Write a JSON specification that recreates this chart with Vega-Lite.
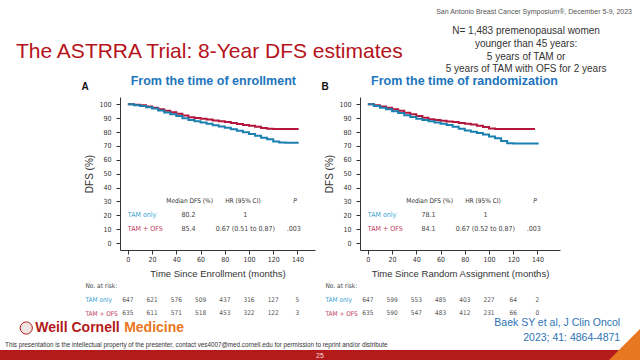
{
  "$schema": "https://vega.github.io/schema/vega-lite/v6.json",
  "padding": 0,
  "background": "white",
  "spacing": 0,
  "config": {
    "view": {"stroke": null},
    "font": "Liberation Sans",
    "axis": {"labelFont": "DejaVu Sans Condensed", "titleFont": "Liberation Sans", "labelOverlap": false, "labelFlush": false, "labelBound": false, "labelSeparation": 0, "tickCount": 30},
    "text": {"font": "DejaVu Sans Condensed"}
  },
  "datasets": {
    "km": [
      {"p":"A","g":"TAM + OFS","t":0,"v":100},{"p":"A","g":"TAM + OFS","t":5,"v":99.8},{"p":"A","g":"TAM + OFS","t":10,"v":99.3},{"p":"A","g":"TAM + OFS","t":15,"v":98.5},{"p":"A","g":"TAM + OFS","t":20,"v":97.6},{"p":"A","g":"TAM + OFS","t":25,"v":96.5},{"p":"A","g":"TAM + OFS","t":30,"v":95.3},{"p":"A","g":"TAM + OFS","t":35,"v":94.3},{"p":"A","g":"TAM + OFS","t":40,"v":93.3},{"p":"A","g":"TAM + OFS","t":45,"v":91.9},{"p":"A","g":"TAM + OFS","t":50,"v":90.7},{"p":"A","g":"TAM + OFS","t":55,"v":90.2},{"p":"A","g":"TAM + OFS","t":60,"v":89.7},{"p":"A","g":"TAM + OFS","t":65,"v":89.1},{"p":"A","g":"TAM + OFS","t":70,"v":88.4},{"p":"A","g":"TAM + OFS","t":75,"v":87.8},{"p":"A","g":"TAM + OFS","t":80,"v":87.2},{"p":"A","g":"TAM + OFS","t":85,"v":86.6},{"p":"A","g":"TAM + OFS","t":90,"v":85.8},{"p":"A","g":"TAM + OFS","t":95,"v":85.1},{"p":"A","g":"TAM + OFS","t":100,"v":84.5},{"p":"A","g":"TAM + OFS","t":105,"v":83.8},{"p":"A","g":"TAM + OFS","t":110,"v":83.0},{"p":"A","g":"TAM + OFS","t":115,"v":82.4},{"p":"A","g":"TAM + OFS","t":120,"v":82.3},{"p":"A","g":"TAM + OFS","t":125,"v":82.3},{"p":"A","g":"TAM + OFS","t":130,"v":82.2},{"p":"A","g":"TAM + OFS","t":135,"v":82.2},{"p":"A","g":"TAM + OFS","t":141,"v":82.2},
      {"p":"A","g":"TAM only","t":0,"v":100},{"p":"A","g":"TAM only","t":5,"v":99.4},{"p":"A","g":"TAM only","t":10,"v":98.8},{"p":"A","g":"TAM only","t":15,"v":97.9},{"p":"A","g":"TAM only","t":20,"v":97.0},{"p":"A","g":"TAM only","t":25,"v":95.6},{"p":"A","g":"TAM only","t":30,"v":94.2},{"p":"A","g":"TAM only","t":35,"v":92.9},{"p":"A","g":"TAM only","t":40,"v":91.6},{"p":"A","g":"TAM only","t":45,"v":90.0},{"p":"A","g":"TAM only","t":50,"v":88.7},{"p":"A","g":"TAM only","t":55,"v":87.8},{"p":"A","g":"TAM only","t":60,"v":86.9},{"p":"A","g":"TAM only","t":65,"v":86.0},{"p":"A","g":"TAM only","t":70,"v":85.0},{"p":"A","g":"TAM only","t":75,"v":84.0},{"p":"A","g":"TAM only","t":80,"v":83.1},{"p":"A","g":"TAM only","t":85,"v":82.1},{"p":"A","g":"TAM only","t":90,"v":81.0},{"p":"A","g":"TAM only","t":95,"v":79.9},{"p":"A","g":"TAM only","t":100,"v":78.7},{"p":"A","g":"TAM only","t":105,"v":77.3},{"p":"A","g":"TAM only","t":110,"v":76.0},{"p":"A","g":"TAM only","t":115,"v":74.8},{"p":"A","g":"TAM only","t":120,"v":73.3},{"p":"A","g":"TAM only","t":125,"v":72.5},{"p":"A","g":"TAM only","t":130,"v":72.4},{"p":"A","g":"TAM only","t":135,"v":72.4},{"p":"A","g":"TAM only","t":141,"v":72.4},
      {"p":"B","g":"TAM + OFS","t":0,"v":100},{"p":"B","g":"TAM + OFS","t":5,"v":99.3},{"p":"B","g":"TAM + OFS","t":10,"v":98.5},{"p":"B","g":"TAM + OFS","t":15,"v":97.5},{"p":"B","g":"TAM + OFS","t":20,"v":96.5},{"p":"B","g":"TAM + OFS","t":25,"v":95.3},{"p":"B","g":"TAM + OFS","t":30,"v":94.0},{"p":"B","g":"TAM + OFS","t":35,"v":92.8},{"p":"B","g":"TAM + OFS","t":40,"v":91.6},{"p":"B","g":"TAM + OFS","t":45,"v":90.3},{"p":"B","g":"TAM + OFS","t":50,"v":89.3},{"p":"B","g":"TAM + OFS","t":55,"v":88.8},{"p":"B","g":"TAM + OFS","t":60,"v":88.2},{"p":"B","g":"TAM + OFS","t":65,"v":87.7},{"p":"B","g":"TAM + OFS","t":70,"v":87.2},{"p":"B","g":"TAM + OFS","t":75,"v":86.6},{"p":"B","g":"TAM + OFS","t":80,"v":86.0},{"p":"B","g":"TAM + OFS","t":85,"v":85.4},{"p":"B","g":"TAM + OFS","t":90,"v":84.6},{"p":"B","g":"TAM + OFS","t":95,"v":83.6},{"p":"B","g":"TAM + OFS","t":100,"v":82.6},{"p":"B","g":"TAM + OFS","t":105,"v":82.3},{"p":"B","g":"TAM + OFS","t":110,"v":82.3},{"p":"B","g":"TAM + OFS","t":120,"v":82.2},{"p":"B","g":"TAM + OFS","t":130,"v":82.2},{"p":"B","g":"TAM + OFS","t":138,"v":82.2},
      {"p":"B","g":"TAM only","t":0,"v":100},{"p":"B","g":"TAM only","t":5,"v":98.9},{"p":"B","g":"TAM only","t":10,"v":97.6},{"p":"B","g":"TAM only","t":15,"v":96.4},{"p":"B","g":"TAM only","t":20,"v":95.1},{"p":"B","g":"TAM only","t":25,"v":93.8},{"p":"B","g":"TAM only","t":30,"v":92.2},{"p":"B","g":"TAM only","t":35,"v":90.8},{"p":"B","g":"TAM only","t":40,"v":89.6},{"p":"B","g":"TAM only","t":45,"v":88.7},{"p":"B","g":"TAM only","t":50,"v":87.9},{"p":"B","g":"TAM only","t":55,"v":87.0},{"p":"B","g":"TAM only","t":60,"v":86.0},{"p":"B","g":"TAM only","t":65,"v":85.2},{"p":"B","g":"TAM only","t":70,"v":83.8},{"p":"B","g":"TAM only","t":75,"v":82.4},{"p":"B","g":"TAM only","t":80,"v":81.2},{"p":"B","g":"TAM only","t":85,"v":80.3},{"p":"B","g":"TAM only","t":90,"v":79.3},{"p":"B","g":"TAM only","t":95,"v":78.2},{"p":"B","g":"TAM only","t":100,"v":76.9},{"p":"B","g":"TAM only","t":105,"v":75.5},{"p":"B","g":"TAM only","t":110,"v":73.6},{"p":"B","g":"TAM only","t":115,"v":72.0},{"p":"B","g":"TAM only","t":120,"v":71.8},{"p":"B","g":"TAM only","t":130,"v":71.7},{"p":"B","g":"TAM only","t":141,"v":71.7}
    ],
    "risk": [
      {"p":"A","g":"TAM only","t":0,"n":647},{"p":"A","g":"TAM only","t":20,"n":621},{"p":"A","g":"TAM only","t":40,"n":576},{"p":"A","g":"TAM only","t":60,"n":509},{"p":"A","g":"TAM only","t":80,"n":437},{"p":"A","g":"TAM only","t":100,"n":316},{"p":"A","g":"TAM only","t":120,"n":127},{"p":"A","g":"TAM only","t":140,"n":5},
      {"p":"A","g":"TAM + OFS","t":0,"n":635},{"p":"A","g":"TAM + OFS","t":20,"n":611},{"p":"A","g":"TAM + OFS","t":40,"n":571},{"p":"A","g":"TAM + OFS","t":60,"n":518},{"p":"A","g":"TAM + OFS","t":80,"n":453},{"p":"A","g":"TAM + OFS","t":100,"n":322},{"p":"A","g":"TAM + OFS","t":120,"n":122},{"p":"A","g":"TAM + OFS","t":140,"n":3},
      {"p":"B","g":"TAM only","t":0,"n":647},{"p":"B","g":"TAM only","t":20,"n":599},{"p":"B","g":"TAM only","t":40,"n":553},{"p":"B","g":"TAM only","t":60,"n":485},{"p":"B","g":"TAM only","t":80,"n":403},{"p":"B","g":"TAM only","t":100,"n":227},{"p":"B","g":"TAM only","t":120,"n":64},{"p":"B","g":"TAM only","t":140,"n":2},
      {"p":"B","g":"TAM + OFS","t":0,"n":635},{"p":"B","g":"TAM + OFS","t":20,"n":590},{"p":"B","g":"TAM + OFS","t":40,"n":547},{"p":"B","g":"TAM + OFS","t":60,"n":483},{"p":"B","g":"TAM + OFS","t":80,"n":412},{"p":"B","g":"TAM + OFS","t":100,"n":231},{"p":"B","g":"TAM + OFS","t":120,"n":66},{"p":"B","g":"TAM + OFS","t":140,"n":0}
    ],
    "tbl": [
      {"p":"A","g":"TAM only","med":"80.2","hr":"1","pv":""},
      {"p":"A","g":"TAM + OFS","med":"85.4","hr":"0.67 (0.51 to 0.87)","pv":".003"},
      {"p":"B","g":"TAM only","med":"78.1","hr":"1","pv":""},
      {"p":"B","g":"TAM + OFS","med":"84.1","hr":"0.67 (0.52 to 0.87)","pv":".003"}
    ]
  },
  "vconcat": [
    {
      "width": 640, "height": 97,
      "data": {"values": [{}]},
      "layer": [
        {"mark": {"type": "text", "align": "right", "baseline": "middle", "fontSize": 7, "color": "#555", "font": "Liberation Sans"},
         "encoding": {"x": {"datum": 0.9875, "type": "quantitative", "scale": {"domain": [0, 1], "nice": false}, "axis": null},
                      "y": {"datum": 0.124, "type": "quantitative", "scale": {"domain": [0, 1], "nice": false, "reverse": true}, "axis": null},
                      "text": {"value": "San Antonio Breast Cancer Symposium®, December 5-9, 2023"}}},
        {"mark": {"type": "text", "align": "left", "baseline": "middle", "fontSize": 21, "color": "#b5121b", "font": "Liberation Sans"},
         "encoding": {"x": {"datum": 0.025, "type": "quantitative"}, "y": {"datum": 0.536, "type": "quantitative"},
                      "text": {"value": "The ASTRRA Trial: 8-Year DFS estimates"}}},
        {"mark": {"type": "text", "align": "center", "baseline": "middle", "fontSize": 10, "lineHeight": 12.8, "color": "#333", "font": "Liberation Sans"},
         "encoding": {"x": {"datum": 0.822, "type": "quantitative"}, "y": {"datum": 0.32, "type": "quantitative"},
                      "text": {"value": ["N= 1,483 premenopausal women", "younger than 45 years:", "5 years of TAM or", "5 years of TAM with OFS for 2 years"]}}},
        {"mark": {"type": "text", "align": "center", "baseline": "middle", "fontSize": 12.5, "fontWeight": "bold", "color": "#1c75bc", "font": "Liberation Sans"},
         "encoding": {"x": {"datum": 0.3333, "type": "quantitative"}, "y": {"datum": 0.835, "type": "quantitative"}, "text": {"value": "From the time of enrollment"}}},
        {"mark": {"type": "text", "align": "center", "baseline": "middle", "fontSize": 12.5, "fontWeight": "bold", "color": "#1c75bc", "font": "Liberation Sans"},
         "encoding": {"x": {"datum": 0.7258, "type": "quantitative"}, "y": {"datum": 0.835, "type": "quantitative"}, "text": {"value": "From the time of randomization"}}},
        {"mark": {"type": "text", "align": "center", "baseline": "middle", "fontSize": 10, "fontWeight": "bold", "color": "#111", "font": "Liberation Sans"},
         "encoding": {"x": {"datum": 0.1328, "type": "quantitative"}, "y": {"datum": 0.897, "type": "quantitative"}, "text": {"value": "A"}}},
        {"mark": {"type": "text", "align": "center", "baseline": "middle", "fontSize": 10, "fontWeight": "bold", "color": "#111", "font": "Liberation Sans"},
         "encoding": {"x": {"datum": 0.5078, "type": "quantitative"}, "y": {"datum": 0.897, "type": "quantitative"}, "text": {"value": "B"}}}
      ]
    },
    {
      "hconcat": [
        {"width": 75, "height": 185, "data": {"values": [{}]}, "mark": {"type": "text"}, "encoding": {"text": {"value": ""}}},
        {
          "width": 195, "height": 153,
          "layer": [
            {"data": {"name": "km"}, "transform": [{"filter": "datum.p === 'A'"}],
             "mark": {"type": "line", "interpolate": "step-after", "strokeWidth": 2},
             "encoding": {
               "x": {"field": "t", "type": "quantitative", "scale": {"domain": [-6.5, 154.5], "nice": false, "zero": false},
                     "axis": {"title": "Time Since Enrollment (months)", "values": [0,20,40,60,80,100,120,140], "tickCount": 30, "labelOverlap": false, "grid": false, "tickSize": 4, "labelPadding": 1, "labelFontSize": 7, "labelColor": "#333", "domainColor": "#333", "tickColor": "#333", "titleFontSize": 9.5, "titleFontWeight": "normal", "titleColor": "#333", "titlePadding": 6}},
               "y": {"field": "v", "type": "quantitative", "scale": {"domain": [-5, 105.3], "nice": false, "zero": false},
                     "axis": {"title": "DFS (%)", "values": [0,10,20,30,40,50,60,70,80,90,100], "tickCount": 30, "labelOverlap": false, "grid": false, "tickSize": 4, "labelPadding": 5, "labelFontSize": 7, "labelColor": "#333", "domainColor": "#333", "tickColor": "#333", "titleFontSize": 10, "titleFontWeight": "normal", "titleColor": "#333", "titlePadding": 4}},
               "color": {"field": "g", "type": "nominal", "scale": {"domain": ["TAM only", "TAM + OFS"], "range": ["#1a80b0", "#b3173b"]}, "legend": null}
             }},
            {"data": {"name": "tbl"}, "transform": [{"filter": "datum.p === 'A' && datum.g === 'TAM only'"}],
             "encoding": {"y": {"datum": 20, "type": "quantitative"}},
             "layer": [
               {"mark": {"type": "text", "align": "left", "fontSize": 7, "color": "#3a9fd0"}, "encoding": {"x": {"datum": 0, "type": "quantitative"}, "text": {"field": "g"}}},
               {"mark": {"type": "text", "fontSize": 7, "color": "#444"}, "encoding": {"x": {"datum": 50, "type": "quantitative"}, "text": {"field": "med"}}},
               {"mark": {"type": "text", "fontSize": 7, "color": "#444"}, "encoding": {"x": {"datum": 97, "type": "quantitative"}, "text": {"field": "hr"}}},
               {"mark": {"type": "text", "fontSize": 7, "color": "#444"}, "encoding": {"x": {"datum": 137, "type": "quantitative"}, "text": {"field": "pv"}}}
             ]},
            {"data": {"name": "tbl"}, "transform": [{"filter": "datum.p === 'A' && datum.g === 'TAM + OFS'"}],
             "encoding": {"y": {"datum": 10, "type": "quantitative"}},
             "layer": [
               {"mark": {"type": "text", "align": "left", "fontSize": 7, "color": "#c23a62"}, "encoding": {"x": {"datum": 0, "type": "quantitative"}, "text": {"field": "g"}}},
               {"mark": {"type": "text", "fontSize": 7, "color": "#444"}, "encoding": {"x": {"datum": 50, "type": "quantitative"}, "text": {"field": "med"}}},
               {"mark": {"type": "text", "fontSize": 7, "color": "#444"}, "encoding": {"x": {"datum": 97, "type": "quantitative"}, "text": {"field": "hr"}}},
               {"mark": {"type": "text", "fontSize": 7, "color": "#444"}, "encoding": {"x": {"datum": 137, "type": "quantitative"}, "text": {"field": "pv"}}}
             ]},
            {"data": {"values": [{}]},
             "encoding": {"y": {"datum": 30, "type": "quantitative"}},
             "layer": [
               {"mark": {"type": "text", "fontSize": 6.5, "color": "#333"}, "encoding": {"x": {"datum": 51, "type": "quantitative"}, "text": {"value": "Median DFS (%)"}}},
               {"mark": {"type": "text", "fontSize": 6.5, "color": "#333"}, "encoding": {"x": {"datum": 95, "type": "quantitative"}, "text": {"value": "HR (95% CI)"}}},
               {"mark": {"type": "text", "fontSize": 6.5, "color": "#333", "fontStyle": "italic"}, "encoding": {"x": {"datum": 138, "type": "quantitative"}, "text": {"value": "P"}}}
             ]}
          ]
        },
        {
          "width": 200, "height": 153,
          "layer": [
            {"data": {"name": "km"}, "transform": [{"filter": "datum.p === 'B'"}],
             "mark": {"type": "line", "interpolate": "step-after", "strokeWidth": 2},
             "encoding": {
               "x": {"field": "t", "type": "quantitative", "scale": {"domain": [-6.5, 158.6], "nice": false, "zero": false},
                     "axis": {"title": "Time Since Random Assignment (months)", "values": [0,20,40,60,80,100,120,140], "tickCount": 30, "labelOverlap": false, "grid": false, "tickSize": 4, "labelPadding": 1, "labelFontSize": 7, "labelColor": "#333", "domainColor": "#333", "tickColor": "#333", "titleFontSize": 9.5, "titleFontWeight": "normal", "titleColor": "#333", "titlePadding": 6}},
               "y": {"field": "v", "type": "quantitative", "scale": {"domain": [-5, 105.3], "nice": false, "zero": false},
                     "axis": {"title": "DFS (%)", "values": [0,10,20,30,40,50,60,70,80,90,100], "tickCount": 30, "labelOverlap": false, "grid": false, "tickSize": 4, "labelPadding": 5, "labelFontSize": 7, "labelColor": "#333", "domainColor": "#333", "tickColor": "#333", "titleFontSize": 10, "titleFontWeight": "normal", "titleColor": "#333", "titlePadding": 4}},
               "color": {"field": "g", "type": "nominal", "scale": {"domain": ["TAM only", "TAM + OFS"], "range": ["#1a80b0", "#b3173b"]}, "legend": null}
             }},
            {"data": {"name": "tbl"}, "transform": [{"filter": "datum.p === 'B' && datum.g === 'TAM only'"}],
             "encoding": {"y": {"datum": 20, "type": "quantitative"}},
             "layer": [
               {"mark": {"type": "text", "align": "left", "fontSize": 7, "color": "#3a9fd0"}, "encoding": {"x": {"datum": 0, "type": "quantitative"}, "text": {"field": "g"}}},
               {"mark": {"type": "text", "fontSize": 7, "color": "#444"}, "encoding": {"x": {"datum": 50, "type": "quantitative"}, "text": {"field": "med"}}},
               {"mark": {"type": "text", "fontSize": 7, "color": "#444"}, "encoding": {"x": {"datum": 97, "type": "quantitative"}, "text": {"field": "hr"}}},
               {"mark": {"type": "text", "fontSize": 7, "color": "#444"}, "encoding": {"x": {"datum": 137, "type": "quantitative"}, "text": {"field": "pv"}}}
             ]},
            {"data": {"name": "tbl"}, "transform": [{"filter": "datum.p === 'B' && datum.g === 'TAM + OFS'"}],
             "encoding": {"y": {"datum": 10, "type": "quantitative"}},
             "layer": [
               {"mark": {"type": "text", "align": "left", "fontSize": 7, "color": "#c23a62"}, "encoding": {"x": {"datum": 0, "type": "quantitative"}, "text": {"field": "g"}}},
               {"mark": {"type": "text", "fontSize": 7, "color": "#444"}, "encoding": {"x": {"datum": 50, "type": "quantitative"}, "text": {"field": "med"}}},
               {"mark": {"type": "text", "fontSize": 7, "color": "#444"}, "encoding": {"x": {"datum": 97, "type": "quantitative"}, "text": {"field": "hr"}}},
               {"mark": {"type": "text", "fontSize": 7, "color": "#444"}, "encoding": {"x": {"datum": 137, "type": "quantitative"}, "text": {"field": "pv"}}}
             ]},
            {"data": {"values": [{}]},
             "encoding": {"y": {"datum": 30, "type": "quantitative"}},
             "layer": [
               {"mark": {"type": "text", "fontSize": 6.5, "color": "#333"}, "encoding": {"x": {"datum": 51, "type": "quantitative"}, "text": {"value": "Median DFS (%)"}}},
               {"mark": {"type": "text", "fontSize": 6.5, "color": "#333"}, "encoding": {"x": {"datum": 95, "type": "quantitative"}, "text": {"value": "HR (95% CI)"}}},
               {"mark": {"type": "text", "fontSize": 6.5, "color": "#333", "fontStyle": "italic"}, "encoding": {"x": {"datum": 138, "type": "quantitative"}, "text": {"value": "P"}}}
             ]}
          ]
        }
      ],
      "spacing": 45,
      "bounds": "flush"
    },
    {
      "hconcat": [
        {"width": 75, "height": 34, "data": {"values": [{}]}, "mark": {"type": "text"}, "encoding": {"text": {"value": ""}}},
        {
          "width": 195, "height": 33,
          "data": {"name": "risk"}, "transform": [{"filter": "datum.p === 'A'"}],
          "mark": {"type": "text", "fontSize": 6.5, "color": "#555"},
          "encoding": {
            "x": {"field": "t", "type": "quantitative", "scale": {"domain": [-6.5, 154.5], "nice": false, "zero": false}, "axis": null},
            "y": {"field": "g", "type": "ordinal", "scale": {"type": "point", "domain": ["No. at risk:", "TAM only", "TAM + OFS"], "padding": 0.1786},
                  "axis": {"title": null, "domain": false, "ticks": false, "tickSize": 0, "labelAlign": "left", "labelPadding": 35, "labelFontSize": 6.5,
                           "labelColor": {"condition": [{"test": "datum.value === 'TAM only'", "value": "#3a9fd0"}, {"test": "datum.value === 'TAM + OFS'", "value": "#c23a62"}], "value": "#444"}}},
            "text": {"field": "n", "type": "quantitative"}
          }
        },
        {
          "width": 200, "height": 33,
          "data": {"name": "risk"}, "transform": [{"filter": "datum.p === 'B'"}],
          "mark": {"type": "text", "fontSize": 6.5, "color": "#555"},
          "encoding": {
            "x": {"field": "t", "type": "quantitative", "scale": {"domain": [-6.5, 158.6], "nice": false, "zero": false}, "axis": null},
            "y": {"field": "g", "type": "ordinal", "scale": {"type": "point", "domain": ["No. at risk:", "TAM only", "TAM + OFS"], "padding": 0.1786},
                  "axis": {"title": null, "domain": false, "ticks": false, "tickSize": 0, "labelAlign": "left", "labelPadding": 35, "labelFontSize": 6.5,
                           "labelColor": {"condition": [{"test": "datum.value === 'TAM only'", "value": "#3a9fd0"}, {"test": "datum.value === 'TAM + OFS'", "value": "#c23a62"}], "value": "#444"}}},
            "text": {"field": "n", "type": "quantitative"}
          }
        }
      ],
      "spacing": 45,
      "bounds": "flush"
    },
    {
      "width": 640, "height": 44,
      "data": {"values": [{}]},
      "layer": [
        {"mark": {"type": "rect", "color": "#b31b1b", "strokeWidth": 0},
         "encoding": {"x": {"datum": 0, "type": "quantitative", "scale": {"domain": [0, 1], "nice": false}, "axis": null}, "x2": {"datum": 1},
                      "y": {"datum": 0.75, "type": "quantitative", "scale": {"domain": [0, 1], "nice": false, "reverse": true}, "axis": null}, "y2": {"datum": 1}}},
        {"mark": {"type": "point", "shape": "M -1 1 L 1 1 L 1 -1 Z", "size": 1024, "filled": true, "color": "#e87722", "opacity": 1, "strokeWidth": 0},
         "encoding": {"x": {"datum": 0.975, "type": "quantitative"}, "y": {"datum": 0.636, "type": "quantitative"}}},
        {"mark": {"type": "text", "align": "center", "baseline": "middle", "fontSize": 7, "color": "#f4dede", "font": "Liberation Sans"},
         "encoding": {"x": {"datum": 0.5, "type": "quantitative"}, "y": {"datum": 0.875, "type": "quantitative"}, "text": {"value": "25"}}},
        {"mark": {"type": "point", "shape": "circle", "size": 150, "filled": true, "fill": "#efe2e2", "stroke": "#b31b1b", "strokeWidth": 1, "opacity": 1},
         "encoding": {"x": {"datum": 0.041, "type": "quantitative"}, "y": {"datum": 0.25, "type": "quantitative"}}},
        {"mark": {"type": "text", "align": "left", "baseline": "middle", "fontSize": 14, "fontWeight": "bold", "color": "#b31b1b", "font": "Liberation Sans"},
         "encoding": {"x": {"datum": 0.055, "type": "quantitative"}, "y": {"datum": 0.25, "type": "quantitative"}, "text": {"value": "Weill Cornell"}}},
        {"mark": {"type": "text", "align": "left", "baseline": "middle", "fontSize": 14, "fontWeight": "bold", "color": "#e87722", "font": "Liberation Sans"},
         "encoding": {"x": {"datum": 0.194, "type": "quantitative"}, "y": {"datum": 0.25, "type": "quantitative"}, "text": {"value": "Medicine"}}},
        {"mark": {"type": "text", "align": "left", "baseline": "middle", "fontSize": 6.3, "color": "#333", "font": "Liberation Sans"},
         "encoding": {"x": {"datum": 0.008, "type": "quantitative"}, "y": {"datum": 0.636, "type": "quantitative"}, "text": {"value": "This presentation is the intellectual property of the presenter, contact ves4007@med.cornell.edu for permission to reprint and/or distribute"}}},
        {"mark": {"type": "text", "align": "right", "baseline": "middle", "fontSize": 10.5, "color": "#2e74b5", "font": "Liberation Sans"},
         "encoding": {"x": {"datum": 0.969, "type": "quantitative"}, "y": {"datum": 0.136, "type": "quantitative"}, "text": {"value": "Baek SY et al, J Clin Oncol"}}},
        {"mark": {"type": "text", "align": "right", "baseline": "middle", "fontSize": 10.5, "color": "#2e74b5", "font": "Liberation Sans"},
         "encoding": {"x": {"datum": 0.969, "type": "quantitative"}, "y": {"datum": 0.477, "type": "quantitative"}, "text": {"value": "2023; 41: 4864-4871"}}}
      ]
    }
  ]
}
